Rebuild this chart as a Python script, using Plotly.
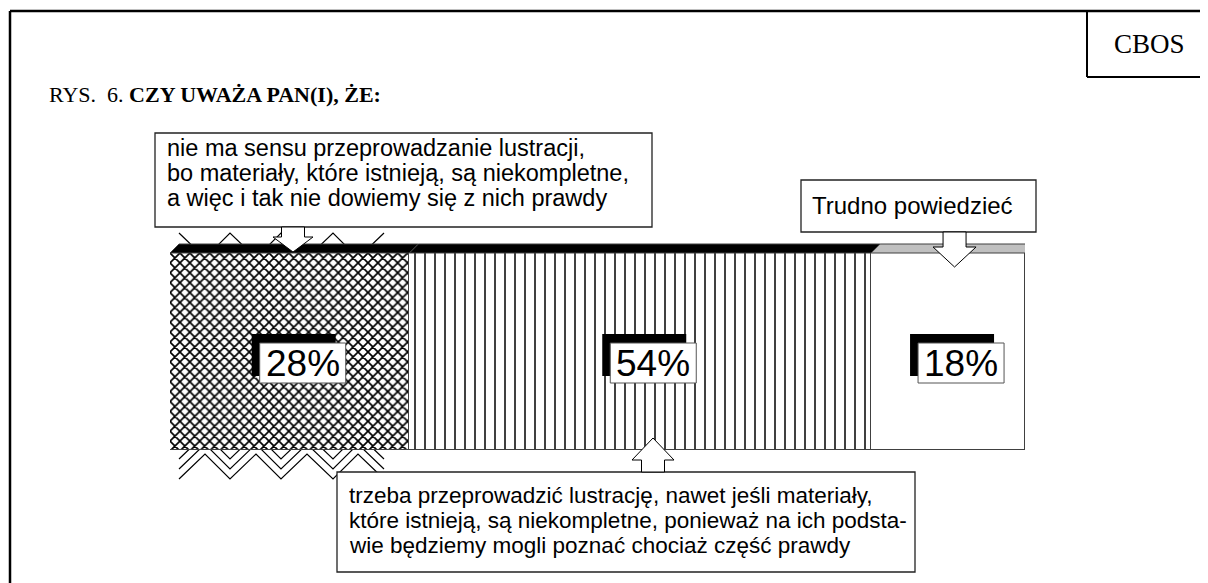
import plotly.graph_objects as go

# ---------------- data ----------------
categories = ["nie ma sensu", "trzeba przeprowadzić", "Trudno powiedzieć"]
values = [28, 54, 18]
pct_labels = ["28%", "54%", "18%"]
title_plain = "RYS.&nbsp;&nbsp;6. "
title_bold = "CZY UWAŻA PAN(I), ŻE:"
brand = "CBOS"
box1_lines = ["nie ma sensu przeprowadzanie lustracji,",
              "bo materiały, które istnieją, są niekompletne,",
              "a więc i tak nie dowiemy się z nich prawdy"]
box2_lines = ["Trudno powiedzieć"]
box3_lines = ["trzeba przeprowadzić lustrację, nawet jeśli materiały,",
              "które istnieją, są niekompletne, ponieważ na ich podsta-",
              "wie będziemy mogli poznać chociaż część prawdy"]

# ---------------- geometry / styles ----------------
PAGE_OFF = 8                      # default body margin of the html page
W, H = 1208, 583                  # window size
FW, FH = W - PAGE_OFF, H - PAGE_OFF
X0PX, X1PX = 170, 1025
BAR_TOP, BAR_BOT = 253, 450
DEPTH = 9
SANS = "Liberation Sans, Arial, sans-serif"
SERIF = "Liberation Serif, Times New Roman, serif"


def px(x):
    return (x - PAGE_OFF) / FW


def py(y):
    return 1 - (y - PAGE_OFF) / FH


scale = (X1PX - X0PX) / 100.0
d = DEPTH / scale
cum = [0]
for v in values:
    cum.append(cum[-1] + v)
mids = [(cum[i] + cum[i + 1]) / 2 for i in range(len(values))]

patterns = [
    dict(shape="x", size=7, solidity=0.42, fgcolor="black", bgcolor="white", fillmode="replace"),
    dict(shape="|", size=10, solidity=0.15, fgcolor="black", bgcolor="white", fillmode="replace"),
    dict(shape="", fgcolor="black", bgcolor="white", fillmode="replace"),
]
top_colors = ["black", "black", "#c0c0c0"]

fig = go.Figure()
for i, v in enumerate(values):
    fig.add_trace(go.Bar(
        x=[v], y=["q"], orientation="h", name=categories[i],
        marker=dict(color="white", line=dict(color="#404040", width=1), pattern=patterns[i]),
        showlegend=False, hoverinfo="skip",
    ))

shapes = []
annotations = []

# outer frame
shapes.append(dict(type="line", xref="paper", yref="paper", x0=px(10), x1=px(W), y0=py(11), y1=py(11),
                   line=dict(color="black", width=2.5), layer="above"))
shapes.append(dict(type="line", xref="paper", yref="paper", x0=px(10), x1=px(10), y0=py(11), y1=py(H),
                   line=dict(color="black", width=2.5), layer="above"))
# CBOS box
shapes.append(dict(type="line", xref="paper", yref="paper", x0=px(1087), x1=px(1087), y0=py(11), y1=py(77),
                   line=dict(color="black", width=2), layer="above"))
shapes.append(dict(type="line", xref="paper", yref="paper", x0=px(1087), x1=px(W), y0=py(77), y1=py(77),
                   line=dict(color="black", width=2), layer="above"))


def zig(xs, ys):
    p = "M " + " L ".join(f"{px(x)},{py(y)}" for x, y in zip(xs, ys))
    return dict(type="path", xref="paper", yref="paper", path=p, line=dict(color="black", width=1.2),
                layer="below")


# zigzag decorations around first segment
zx = [179, 205, 230, 256, 281, 307, 333, 358, 384]
shapes.append(zig(zx, [233, 258, 233, 258, 233, 258, 233, 258, 233]))
for off in (0, 10, 20):
    t = 479 - off
    shapes.append(zig(zx, [t, t - 25, t, t - 25, t, t - 25, t, t - 25, t]))

# 3D top faces
yf, yb = py(BAR_TOP), py(BAR_TOP - DEPTH)
for i in range(len(values)):
    a, b = cum[i], cum[i + 1]
    shapes.append(dict(type="path", xref="x", yref="paper",
                       path=f"M {a},{yf} L {a + d},{yb} L {b + d},{yb} L {b},{yf} Z",
                       fillcolor=top_colors[i], line=dict(color="#404040", width=1), layer="above"))
# right side face
e = cum[-1]
shapes.append(dict(type="path", xref="x", yref="paper",
                   path=f"M {e},{yf} L {e + d},{yb} L {e + d},{py(BAR_BOT - DEPTH)} L {e},{py(BAR_BOT)} Z",
                   fillcolor="#808080", line=dict(color="#404040", width=1), layer="above"))

# percentage label boxes
LBL_SHIFT = 13
for i, lab in enumerate(pct_labels):
    shapes.append(dict(type="rect", xref="x", xsizemode="pixel", xanchor=mids[i],
                       x0=LBL_SHIFT - 43 - 8, x1=LBL_SHIFT + 43 - 10, yref="paper", y0=py(334), y1=py(376),
                       fillcolor="black", line=dict(width=0), layer="above"))
    shapes.append(dict(type="rect", xref="x", xsizemode="pixel", xanchor=mids[i],
                       x0=LBL_SHIFT - 43, x1=LBL_SHIFT + 43, yref="paper", y0=py(343), y1=py(383),
                       fillcolor="white", line=dict(color="#555555", width=1), layer="above"))
    annotations.append(dict(x=mids[i], xref="x", xshift=LBL_SHIFT, y=py(363), yref="paper",
                            text=lab, showarrow=False, xanchor="center", yanchor="middle",
                            font=dict(family=SANS, size=37, color="black")))


def textbox(x0, y0, x1, y1):
    shapes.append(dict(type="rect", xref="paper", yref="paper", x0=px(x0), x1=px(x1), y0=py(y0), y1=py(y1),
                       fillcolor="white", line=dict(color="#222222", width=1.3), layer="above"))


def arrow_down(mid, c, hw_s, hw_h, y_top, y_head, y_tip):
    p = (f"M {c - hw_s},{py(y_top)} L {c - hw_s},{py(y_head)} L {c - hw_h},{py(y_head)} "
         f"L {c},{py(y_tip)} L {c + hw_h},{py(y_head)} L {c + hw_s},{py(y_head)} L {c + hw_s},{py(y_top)} Z")
    shapes.append(dict(type="path", xref="x", xsizemode="pixel", xanchor=mid, yref="paper", path=p,
                       fillcolor="white", line=dict(color="black", width=1), layer="above"))


# box 1 + arrow
textbox(155, 133, 652, 227)
arrow_down(mids[0], 3.3, 11.5, 20, 227, 237, 252)
# box 2 (Trudno) + arrow
textbox(801, 180, 1036, 232)
arrow_down(mids[2], 6.5, 11.5, 21.5, 232, 247, 267)
# box 3 + arrow (pointing up)
textbox(337, 472, 915, 572)
arrow_down(mids[1], 12.75, 11.5, 21, 472, 460, 438)


def lines(xl, baselines, texts, fs):
    for b, t in zip(baselines, texts):
        annotations.append(dict(x=px(xl), y=py(b - 0.35 * fs), xref="paper", yref="paper", text=t,
                                showarrow=False, xanchor="left", yanchor="middle",
                                font=dict(family=SANS, size=fs, color="black")))


lines(165, [156, 181, 206], box1_lines, 23.5)
lines(810, [214], box2_lines, 24)
lines(347, [503, 528, 553], box3_lines, 22.5)

# title and brand
annotations.append(dict(x=px(47), y=py(101 - 0.3 * 22), xref="paper", yref="paper",
                        text=f"{title_plain}<b>{title_bold}</b>", showarrow=False,
                        xanchor="left", yanchor="middle", font=dict(family=SERIF, size=22, color="black")))
annotations.append(dict(x=px(1149), y=py(44), xref="paper", yref="paper", text=brand, showarrow=False,
                        xanchor="center", yanchor="middle", font=dict(family=SERIF, size=27, color="black")))

fig.update_layout(
    width=FW, height=FH, autosize=False,
    margin=dict(l=0, r=0, t=0, b=0),
    paper_bgcolor="white", plot_bgcolor="rgba(0,0,0,0)",
    barmode="stack", bargap=0,
    xaxis=dict(domain=[px(X0PX), px(X1PX)], range=[0, 100], visible=False, fixedrange=True),
    yaxis=dict(domain=[py(BAR_BOT), py(BAR_TOP)], range=[-0.5, 0.5], visible=False, fixedrange=True),
    shapes=shapes, annotations=annotations,
)

fig.write_html("out.html")
